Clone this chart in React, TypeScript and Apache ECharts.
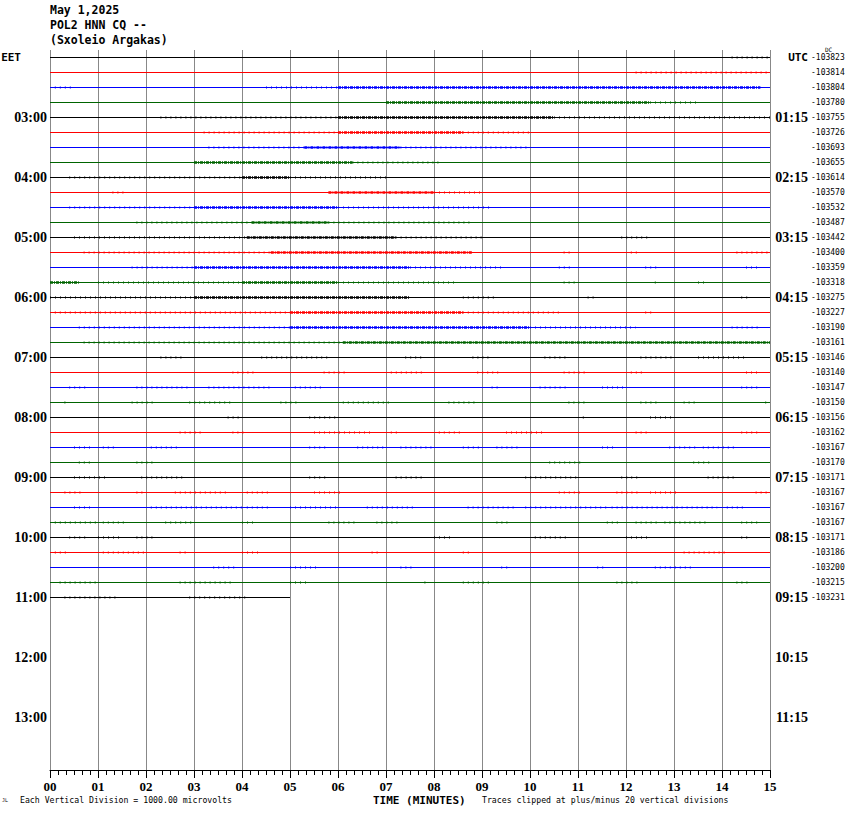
import { useEffect, useRef } from 'react';
import * as echarts from 'echarts';

// ---- data ----
const MINUTE_LABELS = ['00', '01', '02', '03', '04', '05', '06', '07', '08', '09', '10', '11', '12', '13', '14', '15'];
const ROW_COUNT = 48;
const TRACE_COLORS = ['#000000', '#ff0000', '#0000ff', '#006400'];
const LOCAL_LABELS = ['EET', '03:00', '04:00', '05:00', '06:00', '07:00', '08:00', '09:00', '10:00', '11:00', '12:00', '13:00'];
const UTC_LABELS = ['UTC', '01:15', '02:15', '03:15', '04:15', '05:15', '06:15', '07:15', '08:15', '09:15', '10:15', '11:15'];
const DC_VALUES = [
  -103823, -103814, -103804, -103780, -103755, -103726, -103693, -103655,
  -103614, -103570, -103532, -103487, -103442, -103400, -103359, -103318,
  -103275, -103227, -103190, -103161, -103146, -103140, -103147, -103150,
  -103156, -103162, -103167, -103170, -103171, -103167, -103167, -103167,
  -103171, -103186, -103200, -103215, -103231,
];
// trace end (minutes) per row
const TRACE_END = [
  15, 15, 15, 15, 15, 15, 15, 15, 15, 15, 15, 15, 15, 15, 15, 15, 15, 15, 15,
  15, 15, 15, 15, 15, 15, 15, 15, 15, 15, 15, 15, 15, 15, 15, 15, 15, 5,
];
// [row, startMin, endMin] – strong activity
const DENSE: [number, number, number][] = [
  [2, 6, 14.8], [3, 7, 12.5], [4, 6, 10.5], [5, 6, 8.6], [6, 5.3, 7.3], [7, 3, 6.3],
  [8, 4, 5], [9, 5.8, 8], [10, 3, 6], [11, 4.2, 5.8], [12, 4.1, 7.2], [13, 4.6, 8.8],
  [14, 3, 7.5], [15, 0, 0.6], [15, 4, 6], [16, 3, 7.5], [17, 5, 8.6], [18, 5, 10],
  [19, 6.1, 15],
];
// [row, startMin, endMin] – scattered spikes
const SPARSE: [number, number, number][] = [
  [0, 14.2, 15], [1, 12.2, 15], [2, 0.1, 0.5], [2, 4.5, 6], [3, 12.5, 13.5],
  [4, 2.3, 6], [4, 10.5, 15], [5, 3.2, 6], [5, 8.6, 10], [6, 3.3, 5.3], [6, 7.3, 10],
  [7, 6.3, 8.1], [8, 0.4, 4], [8, 5, 7], [9, 1.3, 1.6], [9, 8, 9], [10, 0.4, 3], [10, 6, 9.2],
  [11, 1.8, 4.2], [11, 5.8, 8.8], [12, 0.5, 4.1], [12, 7.2, 9], [12, 11.9, 12.5],
  [13, 0.7, 4.6], [13, 10.7, 10.9], [13, 12.1, 12.3], [13, 14.3, 15],
  [14, 1.7, 3], [14, 7.5, 9.4], [14, 10.6, 10.9], [14, 12.4, 12.7], [14, 14.5, 14.8],
  [15, 1, 4], [15, 6, 8.5], [15, 10.7, 11], [15, 12.6, 12.7], [15, 13.5, 13.7],
  [16, 0, 3], [16, 8.6, 9.3], [16, 11.2, 11.4], [16, 14.4, 14.6],
  [17, 0.1, 5], [17, 8.6, 10.6], [17, 12.4, 12.6],
  [18, 0.6, 5], [18, 10, 12.2], [18, 14.2, 14.8], [19, 0.7, 6.1],
  [20, 2.3, 2.8], [20, 4.4, 5.8], [20, 7.4, 7.8], [20, 8.8, 9.2], [20, 10.3, 10.8], [20, 12.3, 13], [20, 13.5, 14.5],
  [21, 3.8, 4.3], [21, 5.7, 6.2], [21, 7.1, 7.8], [21, 8.9, 9.4], [21, 10.7, 11.2], [21, 12.1, 12.4], [21, 14.5, 14.8],
  [22, 0.4, 0.8], [22, 1.8, 2.9], [22, 3.3, 4.6], [22, 5.1, 5.7], [22, 9.2, 9.4], [22, 10.2, 10.8], [22, 11.5, 12], [22, 14.4, 14.8],
  [23, 0.3, 0.4], [23, 1.7, 2.2], [23, 2.9, 3.8], [23, 4.8, 5.2], [23, 6.1, 7.1], [23, 8.3, 8.9], [23, 10.8, 11.2], [23, 12.3, 12.7], [23, 13.2, 13.5], [23, 14.9, 15],
  [24, 3.7, 4], [24, 5.4, 6], [24, 11.1, 11.2], [24, 12.5, 13],
  [25, 2.7, 3.2], [25, 3.8, 4.1], [25, 5.5, 6.7], [25, 7.1, 7.3], [25, 8.1, 8.6], [25, 9.5, 10.3], [25, 12.2, 12.5], [25, 14.4, 14.8],
  [26, 0.5, 0.9], [26, 1.1, 1.4], [26, 2.1, 2.7], [26, 5.4, 5.8], [26, 6.4, 7], [26, 7.3, 8], [26, 8.6, 9], [26, 9.3, 9.8], [26, 11.5, 11.8], [26, 12.9, 13.5], [26, 13.6, 14.3],
  [27, 0.6, 0.9], [27, 1.8, 2.2], [27, 10.4, 11.1], [27, 13.4, 13.8],
  [28, 0.5, 1.2], [28, 1.9, 2.8], [28, 5.4, 5.8], [28, 7.2, 7.8], [28, 9.9, 11], [28, 11.9, 12.3], [28, 13.7, 14.3],
  [29, 0.3, 0.7], [29, 1.8, 2], [29, 2.6, 3.7], [29, 4.1, 4.6], [29, 5.5, 6.1], [29, 10.6, 11.1], [29, 11.8, 12.3], [29, 12.5, 13.1], [29, 14.7, 15],
  [30, 0.5, 0.9], [30, 2.1, 4], [30, 4.1, 4.6], [30, 5, 6], [30, 6.6, 7.6], [30, 8.7, 9.7], [30, 9.9, 11.6], [30, 11.7, 13.9], [30, 14.1, 14.5],
  [31, 0.1, 1], [31, 1.1, 1.6], [31, 2.4, 3], [31, 4, 4.3], [31, 5.8, 6.4], [31, 6.8, 7.3], [31, 9.3, 9.6], [31, 11.6, 11.9], [31, 12.2, 12.7], [31, 12.8, 13.7], [31, 14.4, 14.8],
  [32, 0.4, 0.8], [32, 1, 1.5], [32, 1.8, 2.2], [32, 8, 8.4], [32, 10.1, 10.8], [32, 12, 12.5], [32, 14.4, 14.6],
  [33, 0.1, 0.4], [33, 1.1, 2], [33, 2.7, 2.9], [33, 4, 4.4], [33, 6.7, 6.9], [33, 8.6, 8.8], [33, 13.2, 14.1],
  [34, 3.4, 3.9], [34, 5, 5.6], [34, 7.3, 7.6], [34, 9.4, 9.6], [34, 11.4, 11.6], [34, 12.6, 13.4],
  [35, 0.2, 1], [35, 2.7, 3.8], [35, 5, 5.4], [35, 7.8, 7.9], [35, 8.6, 9.2], [35, 11.8, 12.3], [35, 14.3, 14.6],
  [36, 0.3, 1.4], [36, 2.9, 4.1],
];

const MONO = '"DejaVu Sans Mono", monospace';
const SERIF = '"Liberation Serif", "DejaVu Serif", serif';

function segmentsFor(list: [number, number, number][], colorIdx: number) {
  const out: any[] = [];
  list.forEach(([r, a, b]) => {
    if (r % 4 !== colorIdx) return;
    out.push([a, r], [b, r], ['-', '-']);
  });
  return out;
}

export default function App() {
  const ref = useRef<HTMLDivElement>(null);
  useEffect(() => {
    if (!ref.current) return;
    const chart = echarts.init(ref.current, null, { renderer: 'svg' });
    const rows = Array.from({ length: ROW_COUNT }, (_, i) => String(i));
    const series: any[] = [];
    TRACE_COLORS.forEach((color, c) => {
      const base: any[] = [];
      TRACE_END.forEach((end, r) => {
        if (r % 4 !== c) return;
        base.push([0, r], [end, r], ['-', '-']);
      });
      series.push({
        type: 'line', data: base, symbol: 'none', silent: true,
        lineStyle: { color, width: 1 },
      });
      series.push({
        type: 'line', data: segmentsFor(SPARSE, c), symbol: 'none', silent: true,
        lineStyle: { color, width: 2, type: [1, 4] },
      });
      series.push({
        type: 'line', data: segmentsFor(DENSE, c), symbol: 'none', silent: true,
        lineStyle: { color, width: 2.4, type: [3, 1, 1, 1] },
      });
    });

    const option: any = {
      animation: false,
      grid: { left: 50, right: 80, top: 50, bottom: 44, containLabel: false, outerBoundsMode: 'none' },
      xAxis: {
        type: 'value', min: 0, max: 15, interval: 1,
        axisLine: { show: true, lineStyle: { color: '#000', width: 1 } },
        axisTick: { show: true, length: 8, lineStyle: { color: '#000' } },
        minorTick: { show: true, splitNumber: 6, length: 5, lineStyle: { color: '#000' } },
        splitLine: { show: true, lineStyle: { color: '#888888', width: 1 } },
        axisLabel: {
          margin: 10, color: '#000', fontFamily: SERIF, fontWeight: 'bold', fontSize: 13, lineHeight: 12,
          formatter: (v: number) => MINUTE_LABELS[Math.round(v)],
          showMinLabel: true, showMaxLabel: true,
        },
      },
      yAxis: [
        {
          type: 'category', data: rows, inverse: true, position: 'left',
          axisLine: { show: false }, axisTick: { show: false }, splitLine: { show: false },
          axisLabel: {
            interval: 0, margin: 3, color: '#000', fontFamily: SERIF, fontWeight: 'bold', fontSize: 14,
            formatter: (_: string, i: number) => {
              if (i % 4 !== 0) return '';
              const l = LOCAL_LABELS[i / 4] ?? '';
              return i === 0 ? '{e|' + l + '}' : l;
            },
            rich: {
              e: { fontFamily: MONO, fontWeight: 'bold', fontSize: 11, padding: [0, 26, 0, 0], color: '#000' },
            },
          },
        },
        {
          type: 'category', data: rows, inverse: true, position: 'right',
          axisLine: { show: false }, axisTick: { show: false }, splitLine: { show: false },
          axisLabel: {
            interval: 0, margin: 38, align: 'right', color: '#000', fontFamily: SERIF, fontWeight: 'bold', fontSize: 14,
            formatter: (_: string, i: number) => {
              if (i % 4 !== 0) return '';
              const l = UTC_LABELS[i / 4] ?? '';
              return i === 0 ? '{u|' + l + '}' : l;
            },
            rich: {
              u: { fontFamily: MONO, fontWeight: 'bold', fontSize: 11, color: '#000' },
            },
          },
        },
        {
          type: 'category', data: rows, inverse: true, position: 'right',
          axisLine: { show: false }, axisTick: { show: false }, splitLine: { show: false },
          axisLabel: {
            interval: 0, margin: 41, align: 'left', color: '#000', fontFamily: MONO, fontSize: 8,
            formatter: (_: string, i: number) => (i < DC_VALUES.length ? String(DC_VALUES[i]) : ''),
          },
        },
      ],
      series,
      graphic: [
        { type: 'text', left: 50, top: 4, style: { text: 'May 1,2025', font: 'bold 11.5px ' + MONO, fill: '#000' } },
        { type: 'text', left: 50, top: 19, style: { text: 'POL2 HNN CQ --', font: 'bold 11.5px ' + MONO, fill: '#000' } },
        { type: 'text', left: 50, top: 34, style: { text: '(Sxoleio Argakas)', font: 'bold 11.5px ' + MONO, fill: '#000' } },
        { type: 'text', left: 825, top: 46, style: { text: 'DC', font: '6px ' + MONO, fill: '#000' } },
        { type: 'text', left: 373, top: 795, style: { text: 'TIME (MINUTES)', font: 'bold 11px ' + MONO, fill: '#000' } },
        { type: 'text', left: 20, top: 796, style: { text: 'Each Vertical Division = 1000.00 microvolts', font: '8.2px ' + MONO, fill: '#000' } },
        { type: 'text', left: 482, top: 796, style: { text: 'Traces clipped at plus/minus 20 vertical divisions', font: '8.2px ' + MONO, fill: '#000' } },
        { type: 'text', left: 2, top: 797, style: { text: 'JL', font: '5px ' + MONO, fill: '#000' } },
      ],
    };
    chart.setOption(option);
    return () => chart.dispose();
  }, []);
  return <div ref={ref} style={{ width: 850, height: 814, position: 'absolute', left: 0, top: 0, background: '#fff' }} />;
}
